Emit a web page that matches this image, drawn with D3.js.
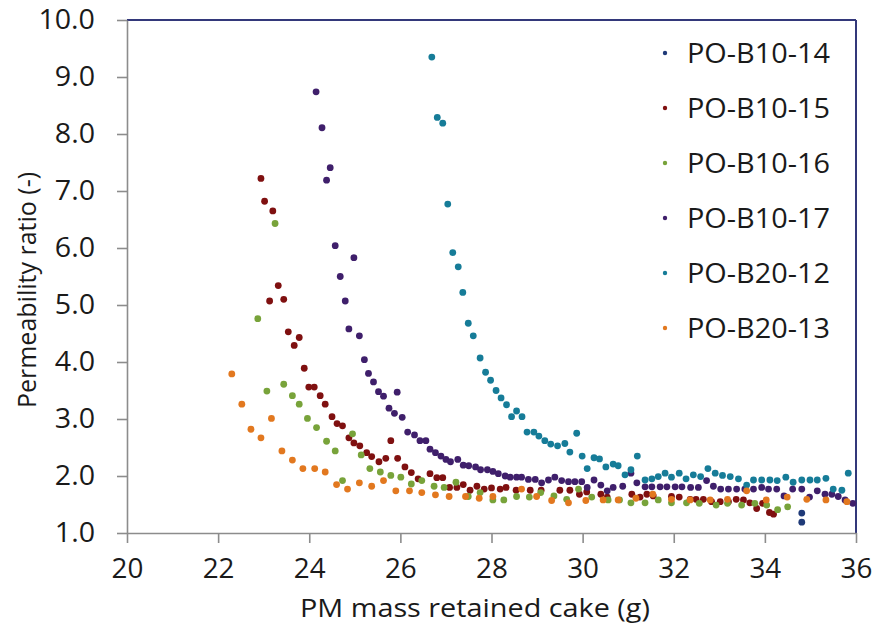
<!DOCTYPE html>
<html>
<head>
<meta charset="utf-8">
<script src="https://cdn.jsdelivr.net/npm/d3@7/dist/d3.min.js"></script>
<style>
  html, body { margin: 0; padding: 0; background: #ffffff; }
  svg { display: block; font-family: "Open Sans", "DejaVu Sans", sans-serif; }
</style>
</head>
<body>
<svg id="chart" width="879" height="627"></svg>
<script>
// ---------------- data ----------------
const seriesNames = ["PO-B10-14", "PO-B10-15", "PO-B10-16", "PO-B10-17", "PO-B20-12", "PO-B20-13"];
const seriesColors = ["#1f3a78", "#7f1010", "#78a33a", "#3f1f6b", "#167c98", "#e2781f"];

const xTicks = [20, 22, 24, 26, 28, 30, 32, 34, 36];
const yTicks = [1, 2, 3, 4, 5, 6, 7, 8, 9, 10];

const dataB10_14 = [[34.81,1.35],[34.81,1.19]];

const dataB10_15 = [[22.94,7.22],[23.02,6.82],[23.20,6.65],[23.13,5.07],[23.32,5.34],[23.44,5.10],[23.54,4.53],[23.67,4.29],[23.78,4.43],[23.89,3.89],[23.99,3.56],[24.11,3.56],[24.24,3.41],[24.35,3.26],[24.50,3.04],[24.61,2.92],[24.73,2.88],[24.87,2.67],[24.98,2.58],[25.11,2.53],[25.26,2.41],[25.37,2.34],[25.53,2.25],[25.68,2.31],[25.79,2.62],[25.94,2.31],[26.10,2.16],[26.24,2.06],[26.39,1.95],[26.65,2.04],[26.80,1.97],[26.93,1.97],[27.08,1.80],[27.24,1.80],[27.38,1.85],[27.53,1.75],[27.68,1.82],[27.84,1.77],[28.00,1.79],[28.19,1.77],[28.32,1.80],[28.54,1.75],[28.85,1.75],[29.09,1.75],[29.50,1.75],[29.72,1.75],[29.93,1.68],[30.09,1.72],[30.40,1.68],[30.54,1.63],[31.08,1.68],[31.26,1.63],[31.41,1.68],[31.55,1.65],[31.95,1.64],[32.12,1.63],[32.36,1.59],[32.49,1.59],[32.65,1.59],[32.83,1.55],[33.02,1.55],[33.20,1.55],[33.37,1.59],[33.53,1.58],[33.67,1.53],[33.82,1.43],[33.95,1.52],[34.10,1.36],[34.19,1.33]];

const dataB10_16 = [[23.25,6.43],[22.87,4.76],[23.07,3.49],[23.44,3.61],[23.63,3.41],[23.78,3.26],[23.96,3.01],[24.16,2.85],[24.38,2.61],[24.57,2.44],[24.73,1.92],[24.95,2.74],[25.14,2.37],[25.33,2.13],[25.56,2.07],[25.79,2.01],[26.01,1.98],[26.24,1.86],[26.47,1.92],[26.74,1.82],[26.96,1.80],[27.22,1.89],[27.49,1.64],[27.75,1.71],[28.03,1.58],[28.27,1.58],[28.55,1.64],[28.83,1.63],[29.08,1.71],[29.37,1.65],[29.65,1.59],[29.91,1.77],[30.20,1.63],[30.56,1.58],[30.81,1.58],[31.06,1.53],[31.37,1.53],[31.66,1.58],[31.95,1.53],[32.28,1.53],[32.56,1.52],[32.93,1.49],[33.18,1.52],[33.49,1.49],[33.78,1.52],[34.04,1.49],[34.28,1.41],[34.50,1.46]];

const dataB10_17 = [[24.15,8.74],[24.28,8.11],[24.38,7.19],[24.46,7.41],[24.57,6.04],[24.68,5.50],[24.79,5.07],[24.87,4.58],[24.98,5.83],[25.10,4.46],[25.21,4.04],[25.30,3.80],[25.41,3.65],[25.52,3.48],[25.63,3.40],[25.75,3.19],[25.87,3.10],[25.93,3.47],[26.04,3.03],[26.16,2.77],[26.31,2.72],[26.43,2.62],[26.56,2.62],[26.65,2.47],[26.77,2.41],[26.89,2.35],[27.00,2.29],[27.10,2.25],[27.26,2.29],[27.38,2.19],[27.50,2.18],[27.65,2.16],[27.76,2.11],[27.91,2.11],[28.03,2.08],[28.15,2.04],[28.30,2.00],[28.41,1.98],[28.55,1.98],[28.66,1.98],[28.81,1.94],[28.96,1.94],[29.10,1.88],[29.25,1.93],[29.39,1.98],[29.54,1.92],[29.69,1.90],[29.83,1.90],[29.98,1.90],[30.10,1.80],[30.25,1.93],[30.40,1.84],[30.54,1.74],[30.67,1.80],[30.88,1.82],[31.06,2.05],[31.19,1.88],[31.37,1.81],[31.52,1.81],[31.70,1.81],[31.85,1.81],[32.03,1.81],[32.18,1.81],[32.37,1.80],[32.54,1.80],[32.72,1.92],[32.87,1.82],[33.03,1.77],[33.20,1.77],[33.38,1.77],[33.56,1.77],[33.75,1.77],[33.93,1.80],[34.08,1.77],[34.26,1.77],[34.42,1.65],[34.61,1.77],[34.81,1.77],[34.98,1.63],[35.15,1.74],[35.32,1.68],[35.47,1.68],[35.61,1.64],[35.76,1.58],[35.93,1.52]];

const dataB20_12 = [[26.69,9.35],[26.81,8.29],[26.93,8.19],[27.04,6.77],[27.15,5.92],[27.27,5.67],[27.37,5.22],[27.49,4.68],[27.60,4.46],[27.75,4.07],[27.87,3.82],[27.98,3.68],[28.10,3.50],[28.21,3.37],[28.33,3.25],[28.44,3.04],[28.55,3.14],[28.67,3.04],[28.78,2.77],[28.93,2.77],[29.04,2.70],[29.17,2.62],[29.30,2.56],[29.45,2.53],[29.61,2.57],[29.72,2.42],[29.87,2.75],[29.99,2.35],[30.10,2.13],[30.25,2.32],[30.37,2.30],[30.51,2.16],[30.67,2.21],[30.78,2.18],[30.93,2.02],[31.06,2.11],[31.20,2.35],[31.37,1.93],[31.52,1.95],[31.66,1.99],[31.81,2.05],[31.95,1.98],[32.12,2.05],[32.27,1.95],[32.43,2.02],[32.59,1.99],[32.75,2.13],[32.91,2.05],[33.07,2.01],[33.24,1.99],[33.42,1.95],[33.60,1.84],[33.75,1.93],[33.93,1.93],[34.11,1.93],[34.27,1.92],[34.46,1.98],[34.62,1.89],[34.81,1.93],[34.99,1.93],[35.15,1.93],[35.34,1.96],[35.50,1.77],[35.69,1.75],[35.83,2.05]];

const dataB20_13 = [[22.30,3.79],[22.52,3.26],[22.72,2.82],[22.94,2.67],[23.17,3.01],[23.40,2.44],[23.63,2.28],[23.86,2.13],[24.12,2.13],[24.35,2.07],[24.60,1.85],[24.84,1.77],[25.10,1.88],[25.37,1.82],[25.63,1.92],[25.90,1.74],[26.20,1.74],[26.47,1.71],[26.77,1.67],[27.07,1.64],[27.43,1.64],[27.73,1.61],[28.03,1.64],[28.66,1.77],[28.99,1.64],[29.32,1.57],[29.69,1.53],[30.07,1.57],[30.45,1.58],[30.78,1.58],[31.17,1.61],[31.54,1.68],[31.95,1.59],[32.36,1.58],[32.80,1.58],[33.18,1.59],[33.60,1.74],[34.03,1.58],[34.49,1.63],[34.92,1.59],[35.34,1.58],[35.80,1.55]];

const seriesData = [dataB10_14, dataB10_15, dataB10_16, dataB10_17, dataB20_12, dataB20_13];

// ---------------- layout ----------------
const W = 879, H = 627;
const margin = { top: 20, right: 23, bottom: 94, left: 127 };
const iw = W - margin.left - margin.right;
const ih = H - margin.top - margin.bottom;

const svg = d3.select("#chart");
const g = svg.append("g").attr("transform", `translate(${margin.left},${margin.top})`);

const x = d3.scaleLinear().domain([20, 36]).range([0, iw]);
const y = d3.scaleLinear().domain([1, 10]).range([ih, 0]);

// horizontally widen text a little (reference glyphs are wider than Open Sans)
function widen(sel, f) {
  sel.each(function () {
    const w = this.getComputedTextLength();
    d3.select(this).attr("textLength", w * f).attr("lengthAdjust", "spacingAndGlyphs");
  });
}

// frame: top & right dark navy
g.append("line").attr("x1", 0).attr("x2", iw).attr("y1", 0).attr("y2", 0)
  .attr("stroke", "#33387a").attr("stroke-width", 2);
g.append("line").attr("x1", iw).attr("x2", iw).attr("y1", 0).attr("y2", ih)
  .attr("stroke", "#33387a").attr("stroke-width", 2);

// axes
const xAxis = d3.axisBottom(x).tickValues(xTicks).tickFormat(d3.format("d"))
  .tickSizeInner(10).tickSizeOuter(0).tickPadding(16);
const yAxis = d3.axisLeft(y).tickValues(yTicks).tickFormat(d3.format(".1f"))
  .tickSizeInner(10).tickSizeOuter(0).tickPadding(22);

const gx = g.append("g").attr("transform", `translate(0,${ih})`).call(xAxis);
const gy = g.append("g").call(yAxis);

[gx, gy].forEach(a => {
  a.select(".domain").attr("stroke", "#8c8c8c").attr("stroke-width", 1.6);
  a.selectAll(".tick line").attr("stroke", "#8c8c8c").attr("stroke-width", 1.6);
  a.selectAll(".tick text").attr("fill", "#1a1a1a")
    .style("font-family", '"Open Sans", sans-serif').style("font-size", "27px");
});
widen(gx.selectAll(".tick text"), 1.03);
widen(gy.selectAll(".tick text"), 1.06);

// axis titles
const xTitle = svg.append("text")
  .attr("x", 475).attr("y", 617)
  .attr("text-anchor", "middle")
  .style("font-size", "26px").attr("fill", "#1a1a1a")
  .text("PM mass retained cake (g)");
xTitle.attr("textLength", 350).attr("lengthAdjust", "spacingAndGlyphs");

svg.append("text")
  .attr("transform", `translate(36,290) rotate(-90)`)
  .attr("text-anchor", "middle")
  .style("font-size", "25px").attr("fill", "#1a1a1a")
  .text("Permeability ratio (-)");

// points
const plot = g.append("g");
seriesData.forEach((data, i) => {
  plot.append("g").selectAll("circle")
    .data(data).join("circle")
    .attr("cx", d => x(d[0]))
    .attr("cy", d => y(d[1]))
    .attr("r", 3.4)
    .attr("fill", seriesColors[i]);
});

// legend
const legend = svg.append("g");
seriesNames.forEach((name, i) => {
  const cy = 53 + i * 55;
  legend.append("circle").attr("cx", 665).attr("cy", cy).attr("r", 2.2).attr("fill", seriesColors[i]);
  legend.append("text").attr("x", 687).attr("y", cy).attr("dy", "0.36em")
    .style("font-size", "27.5px").attr("fill", "#1a1a1a")
    .attr("textLength", 143).attr("lengthAdjust", "spacingAndGlyphs")
    .text(name);
});
</script>
</body>
</html>
